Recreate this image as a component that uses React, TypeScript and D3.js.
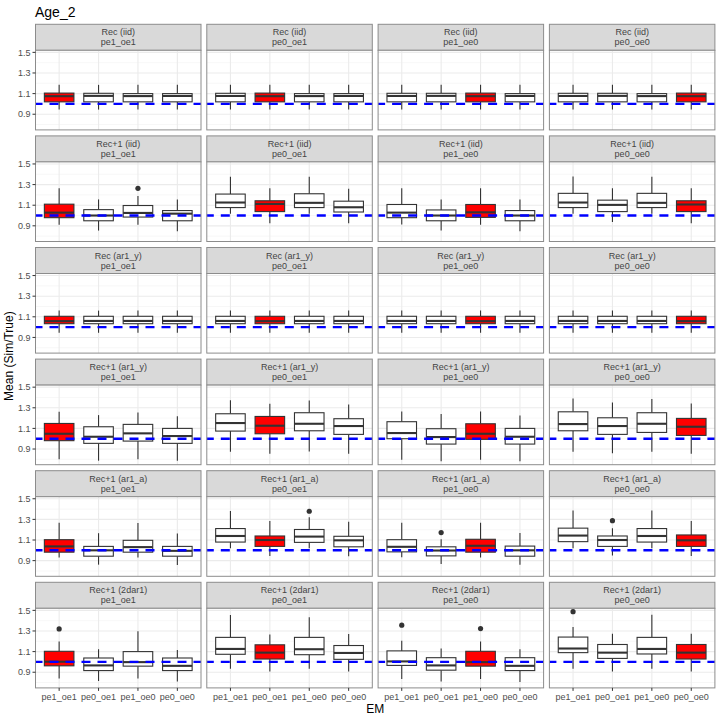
import React from "react";
import * as d3 from "d3";

const emLevels = ["pe1_oe1", "pe0_oe1", "pe1_oe0", "pe0_oe0"];
const omLevels = ["Rec (iid)", "Rec+1 (iid)", "Rec (ar1_y)", "Rec+1 (ar1_y)", "Rec+1 (ar1_a)", "Rec+1 (2dar1)"];
const yMajor = [0.9, 1.1, 1.3, 1.5];
const yMinor = [0.8, 1.0, 1.2, 1.4];

// each panel: 4 boxes (EM order), each [lower whisker, q1, median, q3, upper whisker]
const recIid = [
  [[0.945, 1.02, 1.075, 1.105, 1.185], [0.945, 1.02, 1.078, 1.103, 1.185], [0.945, 1.02, 1.076, 1.1, 1.185], [0.945, 1.02, 1.077, 1.1, 1.185]],
  [[0.945, 1.02, 1.077, 1.103, 1.185], [0.945, 1.02, 1.075, 1.105, 1.185], [0.945, 1.02, 1.076, 1.1, 1.185], [0.945, 1.02, 1.077, 1.1, 1.185]],
  [[0.945, 1.02, 1.077, 1.103, 1.185], [0.945, 1.02, 1.078, 1.103, 1.185], [0.945, 1.02, 1.075, 1.105, 1.185], [0.945, 1.02, 1.077, 1.1, 1.185]],
  [[0.945, 1.02, 1.077, 1.103, 1.185], [0.945, 1.02, 1.078, 1.103, 1.185], [0.945, 1.02, 1.076, 1.1, 1.185], [0.945, 1.02, 1.075, 1.105, 1.185]],
];
const rec1Iid = [
  [[0.91, 0.979, 1.028, 1.11, 1.264], [0.854, 0.949, 1.0, 1.057, 1.156], [0.91, 0.985, 1.025, 1.097, 1.189], [0.848, 0.949, 1.018, 1.048, 1.156]],
  [[1.018, 1.077, 1.126, 1.208, 1.375], [0.926, 1.038, 1.112, 1.143, 1.264], [1.018, 1.077, 1.123, 1.211, 1.375], [0.926, 1.034, 1.08, 1.139, 1.26]],
  [[0.913, 0.979, 1.028, 1.107, 1.264], [0.854, 0.949, 1.0, 1.054, 1.156], [0.91, 0.982, 1.031, 1.107, 1.264], [0.848, 0.949, 1.0, 1.048, 1.156]],
  [[1.018, 1.077, 1.126, 1.215, 1.379], [0.936, 1.038, 1.103, 1.149, 1.264], [1.018, 1.077, 1.123, 1.215, 1.375], [0.926, 1.038, 1.107, 1.143, 1.264]],
];
const recAr1y = [
  [[0.945, 1.033, 1.058, 1.105, 1.16], [0.945, 1.033, 1.06, 1.105, 1.16], [0.945, 1.033, 1.06, 1.105, 1.16], [0.945, 1.033, 1.06, 1.105, 1.16]],
  [[0.945, 1.033, 1.06, 1.105, 1.16], [0.945, 1.033, 1.058, 1.105, 1.16], [0.945, 1.033, 1.06, 1.105, 1.16], [0.945, 1.033, 1.06, 1.105, 1.16]],
  [[0.945, 1.033, 1.06, 1.105, 1.16], [0.945, 1.033, 1.06, 1.105, 1.16], [0.945, 1.033, 1.058, 1.105, 1.16], [0.945, 1.033, 1.06, 1.105, 1.16]],
  [[0.945, 1.033, 1.06, 1.105, 1.16], [0.945, 1.033, 1.06, 1.105, 1.16], [0.945, 1.033, 1.06, 1.105, 1.16], [0.945, 1.033, 1.058, 1.105, 1.16]],
];
const rec1Ar1y = [
  [[0.8, 0.981, 1.048, 1.148, 1.261], [0.787, 0.955, 1.019, 1.116, 1.229], [0.8, 0.977, 1.052, 1.139, 1.255], [0.787, 0.955, 1.026, 1.1, 1.219]],
  [[0.874, 1.074, 1.152, 1.242, 1.374], [0.855, 1.048, 1.126, 1.216, 1.339], [0.877, 1.077, 1.145, 1.252, 1.371], [0.855, 1.042, 1.123, 1.194, 1.332]],
  [[0.797, 1.0, 1.055, 1.165, 1.265], [0.781, 0.948, 1.016, 1.097, 1.239], [0.797, 0.994, 1.048, 1.145, 1.265], [0.781, 0.948, 1.019, 1.1, 1.226]],
  [[0.874, 1.077, 1.142, 1.261, 1.39], [0.858, 1.042, 1.123, 1.203, 1.352], [0.874, 1.061, 1.145, 1.252, 1.384], [0.855, 1.032, 1.116, 1.197, 1.342]],
];
const rec1Ar1a = [
  [[0.93, 0.982, 1.038, 1.103, 1.267], [0.861, 0.943, 1.0, 1.038, 1.166], [0.93, 0.982, 1.031, 1.097, 1.264], [0.857, 0.943, 0.995, 1.038, 1.162]],
  [[1.021, 1.08, 1.139, 1.211, 1.382], [0.946, 1.038, 1.1, 1.139, 1.284], [1.021, 1.077, 1.133, 1.202, 1.32], [0.943, 1.034, 1.097, 1.136, 1.277]],
  [[0.933, 0.985, 1.034, 1.103, 1.267], [0.867, 0.946, 0.998, 1.034, 1.107], [0.93, 0.982, 1.044, 1.107, 1.267], [0.861, 0.943, 1.0, 1.041, 1.169]],
  [[1.021, 1.084, 1.143, 1.215, 1.385], [0.949, 1.038, 1.1, 1.139, 1.215], [1.021, 1.08, 1.139, 1.211, 1.385], [0.946, 1.038, 1.097, 1.149, 1.284]],
];
const rec1Dar1 = [
  [[0.838, 0.962, 1.002, 1.103, 1.198], [0.815, 0.916, 0.966, 1.038, 1.123], [0.838, 0.959, 0.998, 1.1, 1.297], [0.811, 0.916, 0.962, 1.038, 1.116]],
  [[0.933, 1.074, 1.126, 1.238, 1.454], [0.907, 1.028, 1.09, 1.166, 1.267], [0.933, 1.07, 1.123, 1.238, 1.434], [0.907, 1.025, 1.087, 1.159, 1.27]],
  [[0.834, 0.966, 1.005, 1.107, 1.205], [0.811, 0.92, 0.966, 1.041, 1.13], [0.834, 0.959, 0.998, 1.103, 1.198], [0.805, 0.916, 0.962, 1.041, 1.123]],
  [[0.933, 1.09, 1.13, 1.241, 1.339], [0.907, 1.034, 1.09, 1.169, 1.274], [0.933, 1.077, 1.126, 1.238, 1.457], [0.907, 1.028, 1.09, 1.169, 1.274]],
];
const panelStats = [recIid, rec1Iid, recAr1y, rec1Ar1y, rec1Ar1a, rec1Dar1];

// outlying points: [row, column, box, value]
const outliers = [
  [1, 0, 2, 1.264],
  [4, 1, 2, 1.379],
  [4, 2, 1, 1.172],
  [4, 3, 1, 1.287],
  [5, 0, 0, 1.32],
  [5, 2, 0, 1.356],
  [5, 2, 2, 1.323],
  [5, 3, 0, 1.487],
];

const FONT = "'Liberation Sans', Arial, Helvetica, sans-serif";

export default function App() {
  const left = 35.5;
  const colPitch = 171.3;
  const panelW = 165.5;
  const top = 24.3;
  const rowPitch = 111.6;
  const stripH = 26;
  const plotH = 79.6;

  const x = d3.scalePoint<string>().domain(emLevels).range([0, panelW]).padding(0.6);
  const boxW = x.step() * 0.75;
  const y = d3.scaleLinear().domain([0.748, 1.52]).range([plotH, 0]);

  const lastBottom = top + 5 * rowPitch + stripH + plotH;
  const rightEdge = left + 3 * colPitch + panelW;

  return (
    <svg width={720} height={720} style={{ position: "absolute", left: 0, top: 0, background: "#fff" }} fontFamily={FONT}>
      <text x={35} y={17} fontSize={14} fill="#000">Age_2</text>

      {omLevels.map((om, r) =>
        emLevels.map((em, c) => {
          const px = left + c * colPitch;
          const py = top + r * rowPitch;
          const stats = panelStats[r][c];
          return (
            <g key={`${r}-${c}`} transform={`translate(${px},${py})`}>
              {/* strip */}
              <rect x={0} y={0} width={panelW} height={stripH} fill="#D9D9D9" stroke="#8c8c8c" strokeWidth={1} />
              <text x={panelW / 2} y={11} fontSize={9} fill="#444" textAnchor="middle">{om}</text>
              <text x={panelW / 2} y={21} fontSize={9} fill="#444" textAnchor="middle">{em}</text>

              <g transform={`translate(0,${stripH})`}>
                <rect x={0} y={0} width={panelW} height={plotH} fill="#fff" />
                {yMinor.map((v) => (
                  <line key={`mi${v}`} x1={0} x2={panelW} y1={y(v)} y2={y(v)} stroke="#F2F2F2" strokeWidth={0.6} />
                ))}
                {yMajor.map((v) => (
                  <line key={`ma${v}`} x1={0} x2={panelW} y1={y(v)} y2={y(v)} stroke="#EBEBEB" strokeWidth={1.1} />
                ))}
                {emLevels.map((e) => (
                  <line key={`v${e}`} x1={x(e)} x2={x(e)} y1={0} y2={plotH} stroke="#EBEBEB" strokeWidth={1.1} />
                ))}

                {stats.map((s, i) => {
                  const cx = x(emLevels[i]) as number;
                  const [lo, q1, med, q3, hi] = s;
                  return (
                    <g key={i}>
                      <line x1={cx} x2={cx} y1={y(q3)} y2={y(hi)} stroke="#333" strokeWidth={1.1} />
                      <line x1={cx} x2={cx} y1={y(q1)} y2={y(lo)} stroke="#333" strokeWidth={1.1} />
                      <rect
                        x={cx - boxW / 2}
                        y={y(q3)}
                        width={boxW}
                        height={y(q1) - y(q3)}
                        fill={i === c ? "#FF0000" : "#FFFFFF"}
                        stroke="#333"
                        strokeWidth={1.1}
                      />
                      <line x1={cx - boxW / 2} x2={cx + boxW / 2} y1={y(med)} y2={y(med)} stroke="#333" strokeWidth={2.1} />
                    </g>
                  );
                })}
                {outliers
                  .filter((o) => o[0] === r && o[1] === c)
                  .map((o, k) => (
                    <circle key={k} cx={x(emLevels[o[2]]) as number} cy={y(o[3])} r={2.6} fill="#333" />
                  ))}

                <line
                  x1={0}
                  x2={panelW}
                  y1={y(1)}
                  y2={y(1)}
                  stroke="#0000FF"
                  strokeWidth={2.4}
                  strokeDasharray="9 7"
                  strokeDashoffset={2}
                />
                <rect x={0} y={0} width={panelW} height={plotH} fill="none" stroke="#8c8c8c" strokeWidth={1} />

                {c === 0 &&
                  yMajor.map((v) => (
                    <g key={`yt${v}`}>
                      <line x1={-3} x2={0} y1={y(v)} y2={y(v)} stroke="#333" strokeWidth={1} />
                      <text x={-5} y={y(v)} dy="0.35em" fontSize={9} fill="#4D4D4D" textAnchor="end">
                        {v.toFixed(1)}
                      </text>
                    </g>
                  ))}
                {r === omLevels.length - 1 &&
                  emLevels.map((e) => (
                    <g key={`xt${e}`}>
                      <line x1={x(e)} x2={x(e)} y1={plotH} y2={plotH + 3} stroke="#333" strokeWidth={1} />
                      <text x={x(e)} y={plotH + 12} fontSize={9} fill="#4D4D4D" textAnchor="middle">
                        {e}
                      </text>
                    </g>
                  ))}
              </g>
            </g>
          );
        })
      )}

      <text x={(left + rightEdge) / 2} y={lastBottom + 25} fontSize={12} fill="#000" textAnchor="middle">EM</text>
      <text
        transform={`translate(13,${(top + lastBottom) / 2}) rotate(-90)`}
        fontSize={12}
        fill="#000"
        textAnchor="middle"
      >
        Mean (Sim/True)
      </text>
    </svg>
  );
}
